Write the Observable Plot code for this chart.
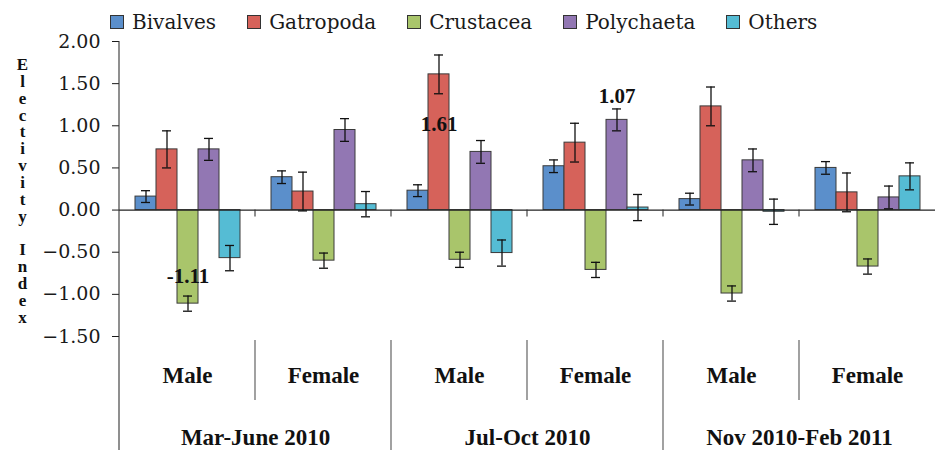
<!DOCTYPE html>
<html><head><meta charset="utf-8">
<script src="https://cdn.jsdelivr.net/npm/d3@7"></script>
<script src="https://cdn.jsdelivr.net/npm/@observablehq/plot@0.6"></script>
<style>
body{margin:0;background:#fff;}
#wrap{position:relative;width:936px;height:450px;overflow:hidden;background:#fff;}
#legend{height:32px;box-sizing:border-box;padding-top:12px;padding-left:110px;display:flex;align-items:center;font-family:"DejaVu Serif";font-size:20px;color:#1a1a1a;line-height:20px;}
#legend .item{display:flex;align-items:center;margin-right:31px;}
#legend .sw{width:12px;height:12px;border:1px solid #333;margin-right:8px;}
svg{display:block;overflow:visible;}
</style>
</head><body>
<div id="wrap"><div id="legend"></div><div id="chart"></div></div>
<script>
const species = ["Bivalves","Gatropoda","Crustacea","Polychaeta","Others"];
const colors = ["#5b8fcb","#d6625a","#a9c56b","#9277b3","#55bcd4"];
const periods = ["Mar-June 2010","Jul-Oct 2010","Nov 2010-Feb 2011"];
const sexes = ["Male","Female"];
// order of groups: Mar M, Mar F, Jul M, Jul F, Nov M, Nov F
const bivalves   = [0.16, 0.39, 0.23, 0.52, 0.13, 0.50];
const gatropoda  = [0.72, 0.22, 1.61, 0.80, 1.23, 0.21];
const crustacea  = [-1.11, -0.60, -0.59, -0.71, -0.99, -0.67];
const polychaeta = [0.72, 0.95, 0.69, 1.07, 0.59, 0.15];
const others     = [-0.57, 0.07, -0.51, 0.03, -0.02, 0.40];
const errBivalves   = [0.07, 0.075, 0.07, 0.075, 0.07, 0.075];
const errGatropoda  = [0.22, 0.23, 0.23, 0.23, 0.23, 0.23];
const errCrustacea  = [0.09, 0.09, 0.09, 0.09, 0.09, 0.09];
const errPolychaeta = [0.13, 0.135, 0.135, 0.13, 0.135, 0.135];
const errOthers     = [0.15, 0.15, 0.155, 0.155, 0.15, 0.16];
const annotationTexts = ["-1.11", "1.61", "1.07"];
const annotationGroups = [0, 2, 3];
const annotationSpecies = ["Crustacea", "Gatropoda", "Polychaeta"];
const annotationY = [-0.79, 1.02, 1.35];
const yTitle = "Electivity Index";

const values = [bivalves, gatropoda, crustacea, polychaeta, others];
const errs = [errBivalves, errGatropoda, errCrustacea, errPolychaeta, errOthers];
const groups = periods.flatMap(p => sexes.map(s => ({key: p + "|" + s, period: p, sex: s})));
const keys = groups.map(g => g.key);
const rows = [];
groups.forEach((g, i) => species.forEach((sp, j) => rows.push({key: g.key, species: sp, value: values[j][i], err: errs[j][i]})));
const annotations = annotationTexts.map((t, i) => ({key: keys[annotationGroups[i]], species: annotationSpecies[i], text: t, y: annotationY[i]}));
const periodRows = groups.filter(g => g.sex === "Male");

// legend
const leg = d3.select("#legend");
species.forEach((s, i) => {
  const it = leg.append("div").attr("class", "item");
  it.append("div").attr("class", "sw").style("background", colors[i]);
  it.append("span").text(s);
});

const titleText = yTitle.split("").map(c => c === " " ? "" : c).join("\n");

const plot = Plot.plot({
  width: 936, height: 418,
  marginTop: 9, marginBottom: 114, marginLeft: 118, marginRight: 0,
  style: {fontFamily: "DejaVu Serif", fontSize: "19px", color: "#1a1a1a", background: "transparent", overflow: "visible"},
  fx: {domain: keys, padding: 0, axis: null},
  x: {domain: species, axis: null, paddingInner: 0, paddingOuter: 0.66},
  y: {domain: [-1.5, 2], ticks: d3.range(-1.5, 2.01, 0.5), tickFormat: d3.format(".2f"), tickSize: 7, tickPadding: 12, label: null},
  color: {domain: species, range: colors},
  marks: [
    Plot.barY(rows, {fx: "key", x: "species", y: "value", fill: "species", stroke: "#3a3a3a", strokeWidth: 1}),
    Plot.ruleY([0], {stroke: "#222", strokeWidth: 1.2}),
    Plot.ruleX(rows, {fx: "key", x: "species", y1: d => d.value - d.err, y2: d => d.value + d.err, stroke: "#111", strokeWidth: 1.3}),
    Plot.tickY(rows, {fx: "key", x: "species", y: d => d.value - d.err, insetLeft: 6, insetRight: 6, stroke: "#111", strokeWidth: 1.3}),
    Plot.tickY(rows, {fx: "key", x: "species", y: d => d.value + d.err, insetLeft: 6, insetRight: 6, stroke: "#111", strokeWidth: 1.3}),
    Plot.text(annotations, {fx: "key", x: "species", y: "y", text: "text", fontWeight: "bold", fontFamily: "Liberation Serif", fontSize: 21, fill: "#111"}),
    Plot.text(groups, {fx: "key", text: "sex", frameAnchor: "bottom", lineAnchor: "middle", dy: 39, fontWeight: "bold", fontFamily: "Liberation Serif", fontSize: 23, fill: "#111"}),
    Plot.text(periodRows, {fx: "key", text: "period", frameAnchor: "bottom-right", textAnchor: "middle", lineAnchor: "middle", dy: 101, fontWeight: "bold", fontFamily: "Liberation Serif", fontSize: 23, fill: "#111"}),
    Plot.text([{key: keys[0]}], {fx: "key", text: () => titleText, frameAnchor: "left", textAnchor: "middle", lineAnchor: "middle", dx: -97, dy: 2, lineHeight: 0.99, fontWeight: "bold", fontFamily: "Liberation Serif", fontSize: 17, fill: "#111"})
  ]
});
document.getElementById("chart").appendChild(plot);

// structural lines derived from the plot's own scales
const fx = plot.scale("fx"), y = plot.scale("y");
const svg = d3.select(plot);
const bw = fx.bandwidth;
const H = 418;
const g = svg.append("g").attr("stroke", "#333").attr("stroke-width", 1.1);
const x0 = fx.apply(keys[0]);
g.append("line").attr("x1", x0).attr("x2", x0).attr("y1", y.apply(2)).attr("y2", H);
const yz = y.apply(0), yb = y.apply(-1.5);
keys.forEach((k, i) => {
  const xr = fx.apply(k) + bw;
  if (i < keys.length - 1) {
    g.append("line").attr("x1", xr).attr("x2", xr).attr("y1", yz).attr("y2", yz + 7);
    const long = groups[i].sex === "Female";
    g.append("line").attr("x1", xr).attr("x2", xr).attr("y1", yb + 4).attr("y2", long ? H : yb + 64).attr("stroke", "#555");
  }
});
</script>
</body></html>
